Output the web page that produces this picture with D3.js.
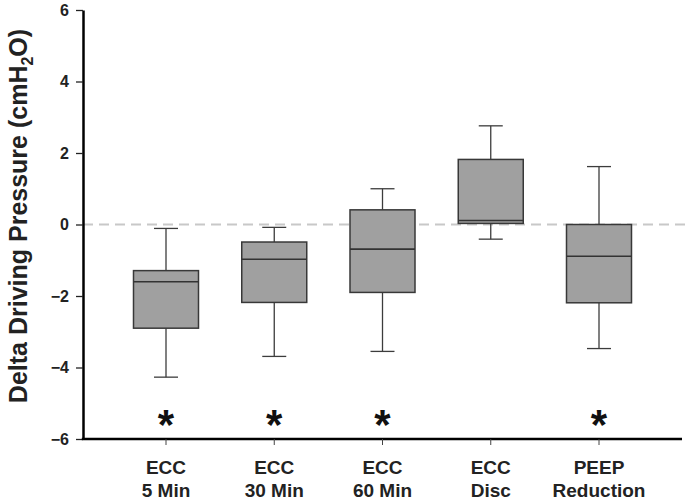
<!DOCTYPE html>
<html>
<head>
<meta charset="utf-8">
<script src="https://cdn.jsdelivr.net/npm/d3@7"></script>
<style>
  body { margin: 0; background: #fff; }
  svg { display: block; }
  text { font-family: "Liberation Sans", Arial, sans-serif; font-weight: bold; }
</style>
</head>
<body>
<svg id="chart" width="685" height="503"></svg>
<script>
const categories = ["ECC 5 Min", "ECC 30 Min", "ECC 60 Min", "ECC Disc", "PEEP Reduction"];
const labelLine1 = ["ECC", "ECC", "ECC", "ECC", "PEEP"];
const labelLine2 = ["5 Min", "30 Min", "60 Min", "Disc", "Reduction"];
const whiskerLow  = [-4.27, -3.69, -3.55, -0.41, -3.47];
const q1          = [-2.90, -2.18, -1.90,  0.03, -2.19];
const median      = [-1.60, -0.97, -0.69,  0.11, -0.89];
const q3          = [-1.29, -0.49,  0.41,  1.82,  0.00];
const whiskerHigh = [-0.11, -0.08,  1.00,  2.76,  1.62];
const significant = [true, true, true, false, true];
const yTicks = [-6, -4, -2, 0, 2, 4, 6];

const svg = d3.select("#chart");
const y = d3.scaleLinear().domain([-6, 6]).range([439, 10]);
const x = d3.scalePoint().domain(categories).range([166, 599]);
const boxW = 65, capW = 24;
const axisX = 83, axisRight = 682;

const data = categories.map((c, i) => ({
  c, lo: whiskerLow[i], q1: q1[i], med: median[i], q3: q3[i], hi: whiskerHigh[i],
  sig: significant[i], l1: labelLine1[i], l2: labelLine2[i]
}));

// zero reference line
svg.append("line")
  .attr("x1", axisX).attr("x2", 685)
  .attr("y1", y(0)).attr("y2", y(0))
  .attr("stroke", "#c8c8c8").attr("stroke-width", 2)
  .attr("stroke-dasharray", "10,6");

const g = svg.selectAll("g.box").data(data).join("g").attr("class", "box");
const wc = "#3c3c3c";
// whiskers
g.append("line")
  .attr("x1", d => x(d.c)).attr("x2", d => x(d.c))
  .attr("y1", d => y(d.hi)).attr("y2", d => y(d.q3))
  .attr("stroke", wc).attr("stroke-width", 1.3);
g.append("line")
  .attr("x1", d => x(d.c)).attr("x2", d => x(d.c))
  .attr("y1", d => y(d.q1)).attr("y2", d => y(d.lo))
  .attr("stroke", wc).attr("stroke-width", 1.3);
g.append("line")
  .attr("x1", d => x(d.c) - capW / 2).attr("x2", d => x(d.c) + capW / 2)
  .attr("y1", d => y(d.hi)).attr("y2", d => y(d.hi))
  .attr("stroke", wc).attr("stroke-width", 1.3);
g.append("line")
  .attr("x1", d => x(d.c) - capW / 2).attr("x2", d => x(d.c) + capW / 2)
  .attr("y1", d => y(d.lo)).attr("y2", d => y(d.lo))
  .attr("stroke", wc).attr("stroke-width", 1.3);
// boxes
g.append("rect")
  .attr("x", d => x(d.c) - boxW / 2).attr("width", boxW)
  .attr("y", d => y(d.q3)).attr("height", d => y(d.q1) - y(d.q3))
  .attr("fill", "#a0a0a0").attr("stroke", "#383838").attr("stroke-width", 1.5);
g.append("line")
  .attr("x1", d => x(d.c) - boxW / 2).attr("x2", d => x(d.c) + boxW / 2)
  .attr("y1", d => y(d.med)).attr("y2", d => y(d.med))
  .attr("stroke", "#333").attr("stroke-width", 1.6);
// significance stars
g.filter(d => d.sig).append("text")
  .attr("x", d => x(d.c)).attr("y", 439)
  .attr("text-anchor", "middle")
  .attr("font-size", 42).attr("fill", "#111")
  .text("*");

// y axis
const yAxis = svg.append("g").attr("transform", `translate(${axisX},0)`)
  .call(d3.axisLeft(y).tickValues(yTicks).tickSize(7).tickSizeOuter(0).tickPadding(7));
yAxis.select(".domain").attr("stroke", "#000").attr("stroke-width", 2.5);
yAxis.selectAll(".tick line").attr("stroke", "#222").attr("stroke-width", 1.3);
yAxis.selectAll(".tick text").attr("font-size", 16).attr("font-weight", "bold")
  .attr("font-family", "'Liberation Sans', Arial, sans-serif").attr("fill", "#222");

// x axis
svg.append("line")
  .attr("x1", axisX - 1.2).attr("x2", axisRight)
  .attr("y1", y(-6)).attr("y2", y(-6))
  .attr("stroke", "#000").attr("stroke-width", 2.5);
const xt = svg.selectAll("g.xtick").data(data).join("g").attr("class", "xtick")
  .attr("transform", d => `translate(${x(d.c)},${y(-6)})`);
xt.append("line").attr("y1", 0).attr("y2", 6).attr("stroke", "#444").attr("stroke-width", 1);
const xl = xt.append("text").attr("text-anchor", "middle").attr("font-size", 19).attr("fill", "#222");
xl.append("tspan").attr("x", 0).attr("y", 35).text(d => d.l1);
xl.append("tspan").attr("x", 0).attr("y", 58).text(d => d.l2);

// y label
const yl = svg.append("text")
  .attr("transform", "translate(27,216) rotate(-90)")
  .attr("text-anchor", "middle").attr("font-size", 25).attr("fill", "#222");
yl.append("tspan").text("Delta Driving Pressure (cmH");
yl.append("tspan").attr("font-size", 16).attr("dy", 6).text("2");
yl.append("tspan").attr("dy", -6).text("O)");
</script>
</body>
</html>
